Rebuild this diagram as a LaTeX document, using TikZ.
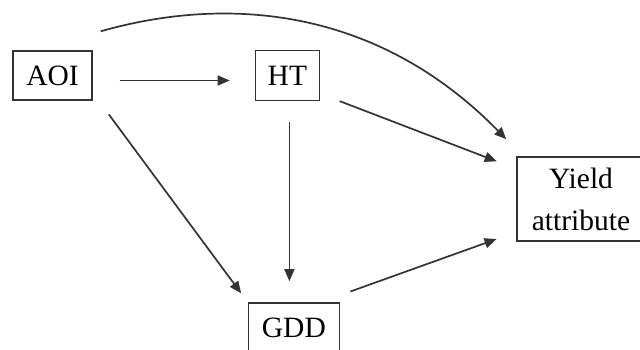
\documentclass[tikz,border=0pt]{standalone}
\usepackage{fontspec}
\setmainfont{Liberation Serif}
\usepackage{tikz}
\usetikzlibrary{positioning, arrows.meta}
\tikzstyle{box} = [rectangle, draw = black!80, line width=1.4pt, inner sep=0pt, minimum height=49pt, text centered, font=\fontsize{29.5}{42}\selectfont]
\tikzstyle{arrow} = [-{Triangle[length=12pt,width=10pt]}, line width=1.7pt, draw=black!80]

\begin{document}
\begin{tikzpicture}[x=1pt, y=-1pt]
		\clip (0,0) rectangle (640,349);
		%定义节点
		\node[box, minimum width=79pt](aoi) at (52.5,75.5){AOI};
		\node[box, minimum width=64pt, minimum height=50pt, right = 162pt of aoi](ht){HT};
		\node[box, minimum width=91pt, minimum height=50pt, below = 201pt of ht, xshift = 6.5pt](gdd){GDD};
		\node[box, minimum width=128pt, minimum height=84pt, align=center](yield) at (581,199){Yield\\attribute};
		%连接节点
		\draw [arrow, shorten <=27pt, shorten >=25pt] ([yshift=-5pt]aoi.east) -- ([yshift=-5pt]ht.west);
		\draw [arrow, shorten <=21pt, shorten >=21pt] ([xshift=2pt]ht.south) -- ([xshift=2pt]ht.south |- gdd.north);
		\draw [arrow, shorten <=17pt, shorten >=11pt] ([xshift=6pt]aoi.south east) -- (gdd.north west);
		\draw [arrow, shorten <=21pt, shorten >=21pt] (ht.-29) -- (yield.155);
		\draw [arrow, shorten <=11pt, shorten >=21pt] ([yshift=7pt]gdd.north east) -- (yield.207);
		\draw [arrow] ([shift={(8pt,19pt)}]aoi.north east) .. controls +(130,-37) and +(-127,-130) .. ([shift={(-10pt,17pt)}]yield.north west);
	\end{tikzpicture}
\end{document}
